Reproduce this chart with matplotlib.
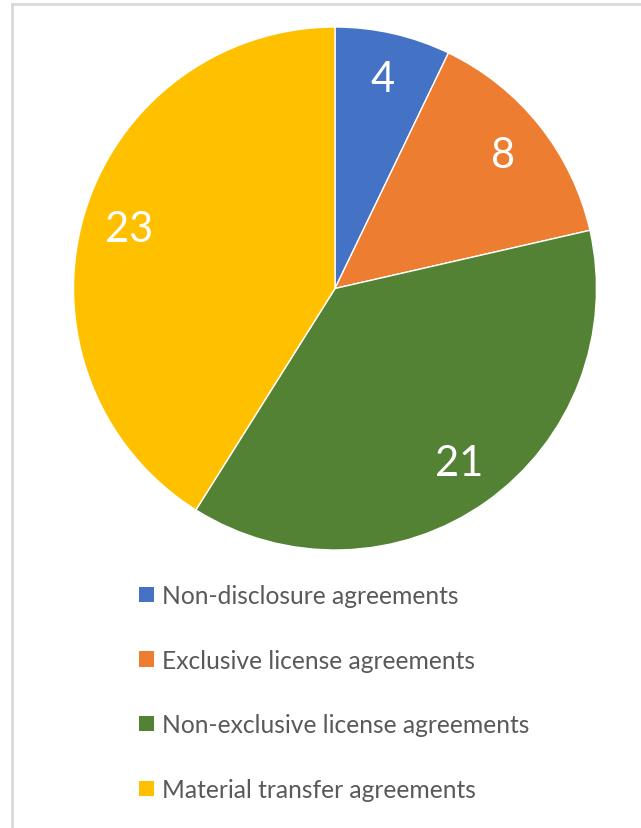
import matplotlib
matplotlib.use('Agg')
import matplotlib.pyplot as plt
from matplotlib.patches import Patch
from matplotlib.lines import Line2D

# data
categories = ['Non-disclosure agreements', 'Exclusive license agreements',
              'Non-exclusive license agreements', 'Material transfer agreements']
counts = [4, 8, 21, 23]
colors = ['#4472C4', '#ED7D31', '#548235', '#FFC000']

W, H = 641, 829
DPI = 100

plt.rcParams['font.family'] = ['Lato', 'DejaVu Sans']

fig = plt.figure(figsize=(W / DPI, H / DPI), dpi=DPI)
fig.set_facecolor('white')

# chart frame (only top and left edges visible in the crop)
fig.add_artist(Line2D([12 / W, 12 / W], [0, 1 - 5 / H], transform=fig.transFigure,
                      color='#d9d9d9', lw=2))
fig.add_artist(Line2D([12 / W, 1], [1 - 5 / H, 1 - 5 / H], transform=fig.transFigure,
                      color='#d9d9d9', lw=2))

cx, cy, r = 335, 289.5, 261.5
ax = fig.add_axes([(cx - r) / W, (H - cy - r) / H, 2 * r / W, 2 * r / H])

wedges, texts = ax.pie(counts, colors=colors, startangle=90, counterclock=False,
                       labels=[str(c) for c in counts], labeldistance=0.82,
                       wedgeprops=dict(edgecolor='white', linewidth=1),
                       textprops=dict(color='white', fontsize=30))
for t in texts:
    t.set_ha('center')
    t.set_va('center')
ax.set_xlim(-1, 1)
ax.set_ylim(-1, 1)
ax.set_aspect('equal')

handles = [Patch(facecolor=c, edgecolor='none') for c in colors]
fig.legend(handles, categories, loc='upper left',
           bbox_to_anchor=(139 / W, 1 - 585 / H), frameon=False,
           fontsize=17.7, labelcolor='#595959', handlelength=0.6,
           handleheight=0.6, handletextpad=0.35, labelspacing=1.695,
           borderpad=0, borderaxespad=0)

fig.savefig('out.png', dpi=DPI, facecolor=fig.get_facecolor())
